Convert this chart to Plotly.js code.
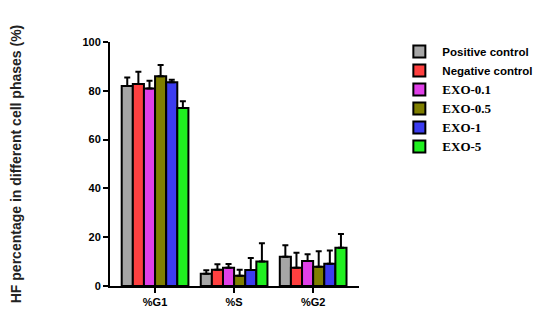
<!DOCTYPE html>
<html>
<head>
<meta charset="utf-8">
<script src="https://cdn.plot.ly/plotly-3.0.1.min.js"></script>
<style>
  html, body { margin: 0; padding: 0; background: #fff; }
  #chart { width: 550px; height: 320px; }
</style>
</head>
<body>
<div id="chart"></div>
<script>
// Cell cycle phases (x categories)
const phases = ['%G1', '%S', '%G2'];

// Groups, their colours and legend labels
const groups = ['Positive control', 'Negative control', 'EXO-0.1', 'EXO-0.5', 'EXO-1', 'EXO-5'];
const colors = ['#a6a6a6', '#ff4040', '#e040e8', '#7f7f00', '#3c3cf0', '#20f020'];
const serifLabel = [false, false, true, true, true, true];

// Mean values per group, [G1, S, G2]
const means = [
    [82.0, 5.0, 12.0],
    [82.8, 6.7, 7.5],
    [80.9, 7.5, 10.2],
    [86.0, 4.2, 7.9],
    [83.5, 6.6, 9.1],
    [73.0, 10.0, 15.7]
];

// Upper error (SD) per group, [G1, S, G2]
const errors = [
    [3.4, 1.5, 4.7],
    [5.0, 2.2, 6.1],
    [3.2, 1.5, 2.8],
    [4.6, 2.5, 6.3],
    [1.0, 4.9, 5.4],
    [2.7, 7.5, 5.6]
];

const traces = groups.map((g, i) => ({
    type: 'bar',
    x: phases,
    y: means[i],
    name: serifLabel[i]
        ? '<span style="font-family:Liberation Serif;font-size:13px">' + g + '</span>'
        : g,
    marker: { color: colors[i], line: { color: '#000', width: 2 } },
    error_y: {
        type: 'data',
        symmetric: false,
        array: errors[i],
        arrayminus: errors[i].map(() => 0),
        color: '#000',
        thickness: 2,
        width: 3
    }
}));

const layout = {
    width: 550,
    height: 320,
    margin: { l: 110, r: 167, t: 42, b: 34 },
    paper_bgcolor: '#fff',
    plot_bgcolor: '#fff',
    barmode: 'group',
    bargap: 0.156,
    bargroupgap: 0,
    showlegend: true,
    font: { family: 'Liberation Sans, Arial, sans-serif', color: '#000' },
    xaxis: {
        range: [-0.57, 2.58],
        showline: true,
        linecolor: '#000',
        linewidth: 2,
        ticks: 'outside',
        ticklen: 5,
        tickwidth: 2,
        tickcolor: '#000',
        showgrid: false,
        zeroline: false,
        tickfont: { size: 11, weight: 'bold' }
    },
    yaxis: {
        range: [0, 100],
        tickvals: [0, 20, 40, 60, 80, 100],
        showline: true,
        linecolor: '#000',
        linewidth: 2,
        ticks: 'outside',
        ticklen: 5,
        tickwidth: 2,
        tickcolor: '#000',
        showgrid: false,
        zeroline: false,
        tickfont: { size: 11, weight: 'bold' },
        title: {
            text: 'HF percentage in different cell phases (%)',
            font: { size: 14, weight: 'bold', color: '#222' },
            standoff: 58
        }
    },
    legend: {
        x: 1.15,
        y: 1.02,
        xanchor: 'left',
        yanchor: 'top',
        tracegroupgap: 0,
        font: { size: 11.5, weight: 'bold' },
        itemwidth: 36,
        traceorder: 'normal'
    }
};

Plotly.newPlot('chart', traces, layout, { displayModeBar: false, staticPlot: true });
</script>
</body>
</html>
